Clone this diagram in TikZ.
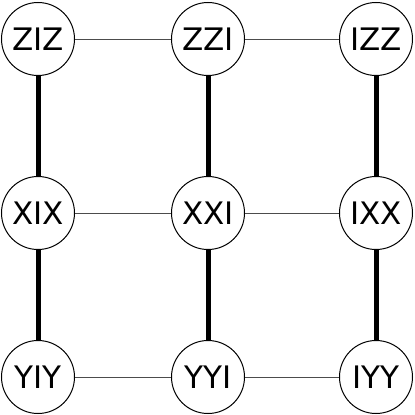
\documentclass[tikz,border=0pt]{standalone}
\usepackage{fontspec}
\setmainfont{DejaVu Sans}
\begin{document}
\begin{tikzpicture}[x=1pt,y=-1pt,
  qnode/.style={circle,draw=black,line width=1pt,fill=white,minimum size=73pt,inner sep=0pt,font=\fontsize{31}{34}\selectfont},
  thin/.style={draw=black!70,line width=1pt},
  thick/.style={draw=black,line width=5pt}]
\useasboundingbox (0,0) rectangle (415,415);
\node[qnode] (a1) at (38,39) {ZIZ};
\node[qnode] (a2) at (208,39) {ZZI};
\node[qnode] (a3) at (376,39) {IZZ};
\node[qnode] (b1) at (38,213) {XIX};
\node[qnode] (b2) at (208,213) {XXI};
\node[qnode] (b3) at (376,213) {IXX};
\node[qnode] (c1) at (38,377) {YIY};
\node[qnode] (c2) at (208,377) {YYI};
\node[qnode] (c3) at (376,377) {IYY};
\draw[thin] (a1) -- (a2);
\draw[thin] (a2) -- (a3);
\draw[thin] (b1) -- (b2);
\draw[thin] (b2) -- (b3);
\draw[thin] (c1) -- (c2);
\draw[thin] (c2) -- (c3);
\draw[thick] (a1) -- (b1);
\draw[thick] (b1) -- (c1);
\draw[thick] (a2) -- (b2);
\draw[thick] (b2) -- (c2);
\draw[thick] (a3) -- (b3);
\draw[thick] (b3) -- (c3);
\end{tikzpicture}
\end{document}
